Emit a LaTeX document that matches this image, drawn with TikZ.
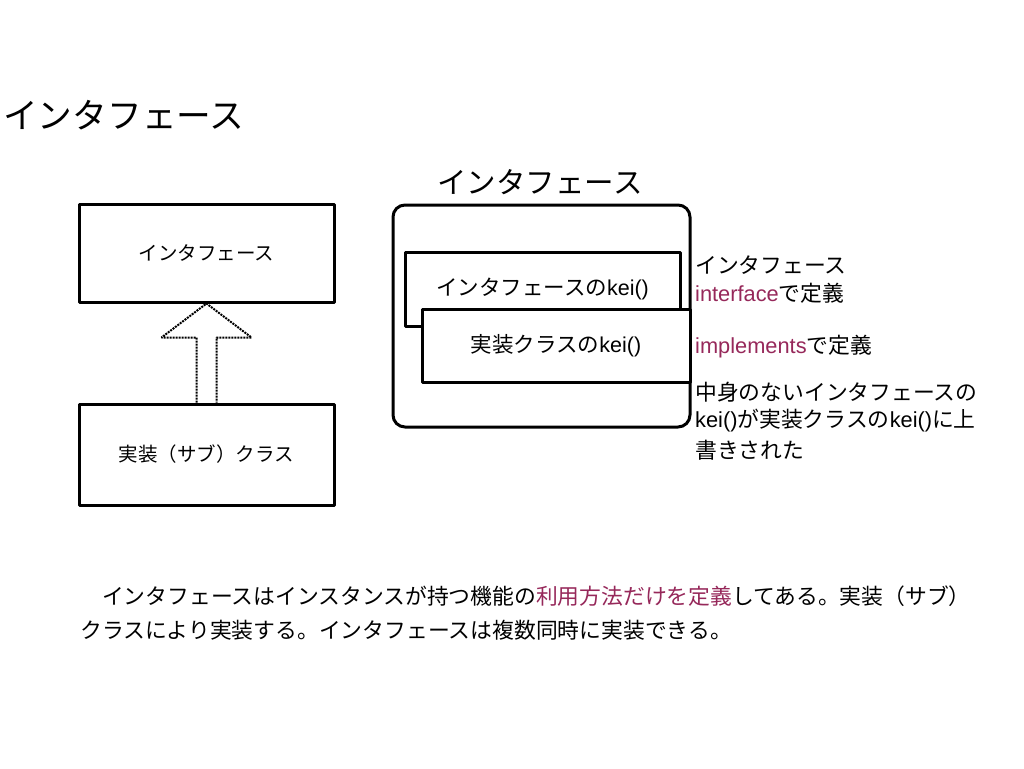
\documentclass[tikz,border=0pt]{standalone}
\usepackage{fontspec}
\setmainfont{Noto Sans CJK JP}
\newfontfamily\lat{Liberation Sans}
\usetikzlibrary{calc}
\definecolor{keyword}{RGB}{150,40,90}

\begin{document}
\begin{tikzpicture}[x=1pt, y=-1pt, line join=bevel,
  cls/.style={draw, line width=3pt, inner sep=0pt},
  clstext/.style={font=\fontsize{19.5}{22}\selectfont},
  keitext/.style={font=\fontsize{21.5}{24}\selectfont},
  note/.style={anchor=west, inner sep=0pt, font=\fontsize{21.8}{24}\selectfont},
  hollow/.style={line width=2pt, densely dotted},
]
\useasboundingbox (0,0) rectangle (1024,768);
%%
\node (title) at (3,115)
  [anchor=west, inner sep=0pt, font=\fontsize{34.7}{40}\selectfont] {インタフェース};

%% left: class diagram
\node (iface) at (206.5,253)
  [cls, minimum width=255pt, minimum height=98pt, clstext] {インタフェース};
\node (sub) at (206.5,454.5)
  [cls, minimum width=255pt, minimum height=101pt, clstext] {実装（サブ）クラス};

\draw [hollow]
  ($(sub.north)+(-10,0)$) -- ($(iface.south)+(-10,34)$)
  -- ($(iface.south)+(-45,34)$) -- (iface.south)
  -- ($(iface.south)+(45,34)$) -- ($(iface.south)+(10,34)$)
  -- ($(sub.north)+(10,0)$);

%% right: interface with methods
\node (frame_title) at (540,182)
  [inner sep=0pt, font=\fontsize{29.5}{34}\selectfont] {インタフェース};
\node (frame) at (541.5,316)
  [cls, rounded corners=12pt, minimum width=297pt, minimum height=222pt] {};
\node (kei_iface) at (542.5,289)
  [cls, minimum width=275pt, minimum height=74pt, keitext]
  {インタフェースの{\lat kei()}};
\node (kei_impl) at (556,345.5)
  [cls, fill=white, minimum width=268pt, minimum height=73pt, keitext]
  {実装クラスの{\lat kei()}};

%% notes
\node (n_iface) at (695,265) [note] {インタフェース};
\node (n_def) at (695,293) [note] {{\lat\color{keyword}interface}で定義};
\node (n_impl) at (695,347) [note] {{\lat\color{keyword}implements}で定義};
\node (n_over1) at (695,392) [note] {中身のないインタフェースの};
\node (n_over2) at (695,421) [note] {{\lat kei()}が実装クラスの{\lat kei()}に上};
\node (n_over3) at (695,450) [note] {書きされた};

%% summary
\node (sum1) at (80,596) [note]
  {　インタフェースはインスタンスが持つ機能の{\color{keyword}利用方法だけを定義}してある。実装（サブ）};
\node (sum2) at (80,630) [note]
  {クラスにより実装する。インタフェースは複数同時に実装できる。};
\end{tikzpicture}
\end{document}
